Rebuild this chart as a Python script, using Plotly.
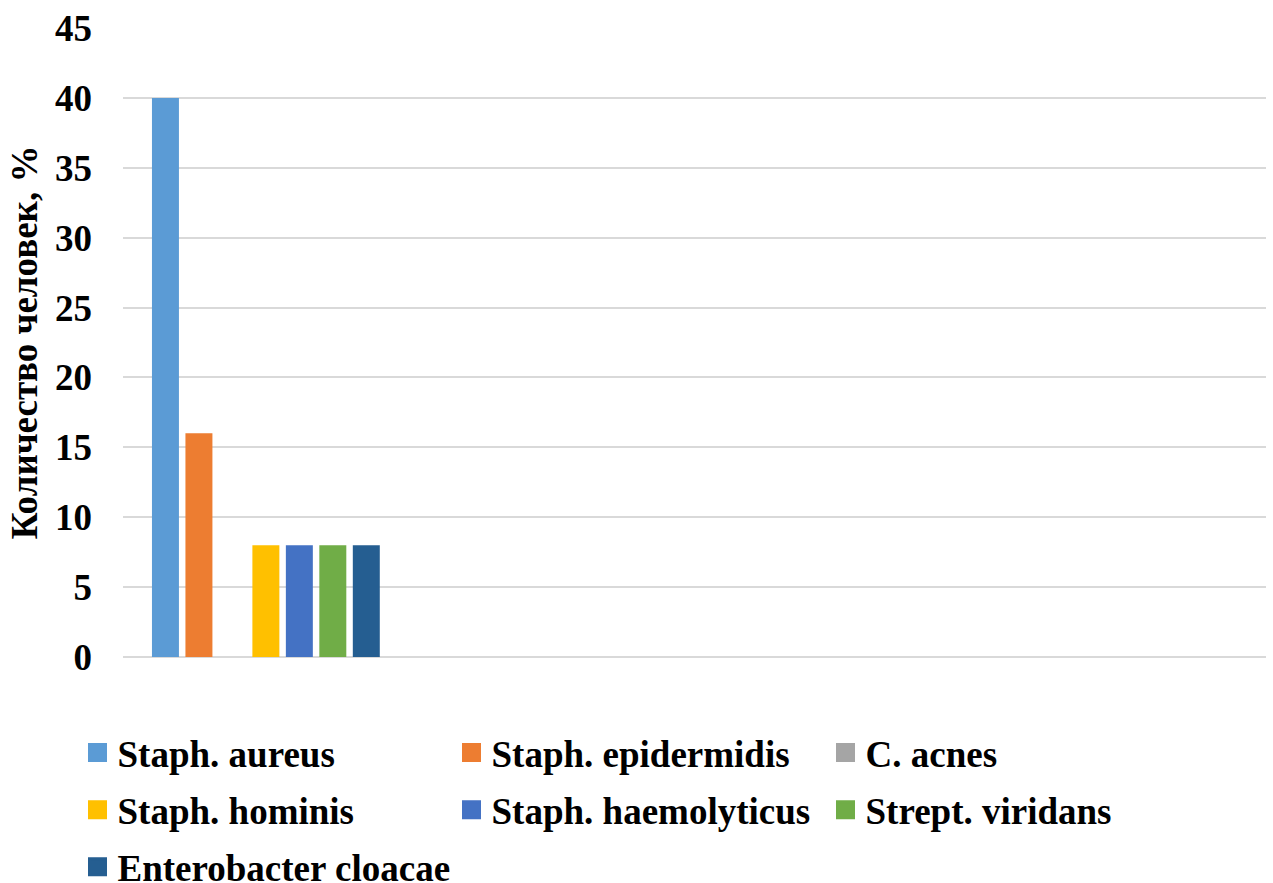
import plotly.graph_objects as go

# One sample group; the x axis leaves room for four such groups
categories = ["1"]
species = [
    "Staph. aureus",
    "Staph. epidermidis",
    "C. acnes",
    "Staph. hominis",
    "Staph. haemolyticus",
    "Strept. viridans",
    "Enterobacter cloacae",
]
percent = [40, 16, 0, 8, 8, 8, 8]
colors = ["#5B9BD5", "#ED7D31", "#A5A5A5", "#FFC000", "#4472C4", "#70AD47", "#255E91"]
legend_column = ["legend", "legend2", "legend3", "legend", "legend2", "legend3", "legend"]
y_ticks = [0, 5, 10, 15, 20, 25, 30, 35, 40, 45]

FONT = dict(family="Times New Roman, Liberation Serif, serif", size=37, color="#000000", weight="bold")

fig = go.Figure()

# Bars
for name, val, col in zip(species, percent, colors):
    fig.add_trace(go.Bar(
        x=categories, y=[val], name=name,
        marker=dict(color=col, line=dict(width=0)),
        showlegend=False,
    ))

# Legend entries with larger square swatches
for name, col, lg in zip(species, colors, legend_column):
    fig.add_trace(go.Scatter(
        x=[None], y=[None], mode="markers", name=name,
        marker=dict(symbol="square", size=16, color=col, line=dict(color=col, width=3)),
        legend=lg, legendgroup=name, showlegend=True,
    ))

W, H = 1273, 883
L, R, T, B = 123, 7, 28, 226
pw, ph = W - L - R, H - T - B

def px_x(px):
    return (px - L) / pw

def px_y(py):
    return (H - B - py) / ph

leg_common = dict(
    orientation="v", xanchor="left", yanchor="top",
    bgcolor="rgba(0,0,0,0)", borderwidth=0, font=FONT,
    tracegroupgap=6, itemclick=False, itemdoubleclick=False,
)
legend_top = px_y(722)

fig.update_layout(
    width=W, height=H,
    margin=dict(l=L, r=R, t=T, b=B, autoexpand=False),
    paper_bgcolor="white", plot_bgcolor="white",
    font=FONT,
    barmode="group", bargap=0.18, bargroupgap=0.194,
    legend=dict(x=px_x(77.5), y=legend_top, **leg_common),
    legend2=dict(x=px_x(451.5), y=legend_top, **leg_common),
    legend3=dict(x=px_x(825.5), y=legend_top, **leg_common),
    xaxis=dict(
        type="category", range=[-0.5, 3.5], showticklabels=False,
        showgrid=False, zeroline=False, showline=False, ticks="",
        fixedrange=True,
    ),
    yaxis=dict(
        range=[0, 45], tickvals=y_ticks, showgrid=True, gridcolor="#D9D9D9", gridwidth=2,
        zeroline=True, zerolinecolor="#D9D9D9", zerolinewidth=2,
        showline=False, ticks="", ticklabelstandoff=30,
        tickfont=FONT,
        title=dict(text="Количество человек, %", font=FONT, standoff=6),
        fixedrange=True,
    ),
)

fig.write_html("out.html")
